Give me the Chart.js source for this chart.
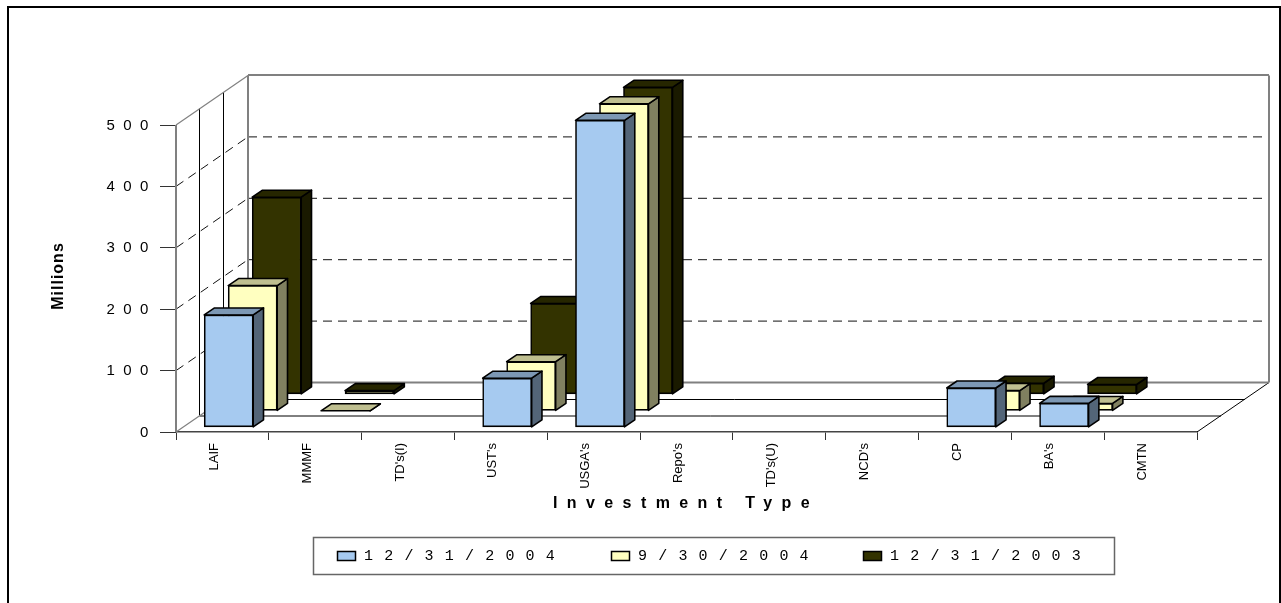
<!DOCTYPE html>
<html>
<head>
<meta charset="utf-8">
<title>Investment Type</title>
<script src="https://cdn.jsdelivr.net/npm/chart.js@4"></script>
<style>
    html, body { margin: 0; padding: 0; background: #ffffff; }
    canvas { display: block; }
</style>
</head>
<body>
<canvas id="investmentChart" width="1281" height="603"></canvas>
<script>
const categories = ["LAIF", "MMMF", "TD's(I)", "UST's", "USGA's", "Repo's", "TD's(U)", "NCD's", "CP", "BA's", "CMTN"];
const seriesLabels = ['12/31/2004', '9/30/2004', '12/31/2003'];
const dec2004 = [183, null, null, 80, 500, null, null, null, 64, 39, null];
const sep2004 = [204, 0, null, 80, 500, null, null, null, 33, 12, null];
const dec2003 = [321, 6, null, 148, 500, null, null, null, 18, 16, null];

const xTitle = 'Investment Type';
const yTitle = 'Millions';

// face, side and top shades for each series
const faceColors = ['#A6CAF0', '#FFFFC0', '#333300'];
const sideColors = ['#536578', '#808060', '#1A1A00'];
const topColors = ['#7D98B4', '#BFBF90', '#262600'];

// depth of the floor, and of one series slot and one bar inside it
const depthX = 72;
const depthY = -49.5;
const slotX = 24;
const slotY = -16.5;
const barDepthX = 10.3;
const barDepthY = -7;

function seriesOffset(i) {
    return { x: 6.3 + i * slotX, y: -4.7 + i * slotY };
}

function line(ctx, x1, y1, x2, y2) {
    ctx.beginPath();
    ctx.moveTo(x1, y1);
    ctx.lineTo(x2, y2);
    ctx.stroke();
}

function polygon(ctx, points, fill) {
    ctx.beginPath();
    points.forEach((p, i) => i ? ctx.lineTo(p[0], p[1]) : ctx.moveTo(p[0], p[1]));
    ctx.closePath();
    ctx.fillStyle = fill;
    ctx.fill();
    ctx.stroke();
}

// back wall, side wall and floor, built on the front axes
const wallsPlugin = {
    id: 'walls',
    beforeDatasetsDraw(chart) {
        const ctx = chart.ctx;
        const yScale = chart.scales.y;
        const { left, right, top, bottom } = chart.chartArea;
        ctx.save();

        // dashed value lines on the side wall and the back wall
        ctx.strokeStyle = '#111111';
        ctx.lineWidth = 1;
        ctx.setLineDash([9, 6]);
        yScale.ticks.forEach(tick => {
            if (tick.value === 0 || tick.value === 500) return;
            const y = yScale.getPixelForValue(tick.value);
            line(ctx, left, y, left + depthX, y + depthY);
            line(ctx, left + depthX, y + depthY, right + depthX, y + depthY);
        });
        ctx.setLineDash([]);

        // series slot lines
        ctx.strokeStyle = '#000000';
        for (let i = 1; i <= 2; i++) {
            const dx = i * slotX;
            const dy = i * slotY;
            line(ctx, left + dx - 0.5, top + dy, left + dx - 0.5, bottom + dy);
            line(ctx, left + dx - 0.5, bottom + dy + 0.5, right + dx, bottom + dy + 0.5);
        }
        line(ctx, right, bottom, right + depthX, bottom + depthY);

        // wall outline
        ctx.strokeStyle = '#808080';
        ctx.lineWidth = 1.2;
        line(ctx, left, top, left + depthX, top + depthY);
        line(ctx, left, bottom, left + depthX, bottom + depthY);
        ctx.lineWidth = 2;
        line(ctx, left, top, left, bottom);
        line(ctx, left + depthX, top + depthY - 0.5, right + depthX, top + depthY - 0.5);
        line(ctx, left + depthX, top + depthY, left + depthX, bottom + depthY);
        line(ctx, right + depthX, top + depthY, right + depthX, bottom + depthY);
        line(ctx, left + depthX, bottom + depthY, right + depthX, bottom + depthY);
        ctx.restore();
    }
};

// moves each series back in depth and adds the side and top of its bars
const barDepthPlugin = {
    id: 'barDepth',
    beforeDatasetDraw(chart, args) {
        const ctx = chart.ctx;
        const offset = seriesOffset(args.index);
        ctx.save();
        ctx.translate(offset.x, offset.y);
        ctx.strokeStyle = '#000000';
        ctx.lineWidth = 1.6;
        ctx.lineJoin = 'round';
        args.meta.data.forEach((bar, i) => {
            if (chart.data.datasets[args.index].data[i] === null) return;
            const l = bar.x - bar.width / 2;
            const r = bar.x + bar.width / 2;
            polygon(ctx, [[r, bar.y], [r + barDepthX, bar.y + barDepthY], [r + barDepthX, bar.base + barDepthY], [r, bar.base]], sideColors[args.index]);
            polygon(ctx, [[l, bar.y], [l + barDepthX, bar.y + barDepthY], [r + barDepthX, bar.y + barDepthY], [r, bar.y]], topColors[args.index]);
        });
    },
    afterDatasetDraw(chart) {
        chart.ctx.restore();
    }
};

function spacedText(ctx, text, x, y, spacing) {
    ctx.letterSpacing = spacing;
    ctx.fillText(text, x, y);
    ctx.letterSpacing = '0px';
}

// outer frame, spaced value labels, axis title and legend box
const furniturePlugin = {
    id: 'furniture',
    afterDraw(chart) {
        const ctx = chart.ctx;
        const yScale = chart.scales.y;
        ctx.save();
        ctx.strokeStyle = '#000000';
        ctx.lineWidth = 2;
        ctx.strokeRect(8, 7, 1272, 620);

        ctx.fillStyle = '#000000';
        ctx.textBaseline = 'middle';
        ctx.textAlign = 'left';
        ctx.font = '15px "Liberation Sans"';
        yScale.ticks.forEach(tick => {
            spacedText(ctx, tick.label, String(tick.value).length === 1 ? 140 : 106.5, yScale.getPixelForValue(tick.value) + 0.5, '8.4px');
        });

        ctx.font = 'bold 16px "Liberation Sans"';
        spacedText(ctx, xTitle, 553, 504, '9.4px');

        ctx.save();
        ctx.translate(58.5, 276);
        ctx.rotate(-Math.PI / 2);
        ctx.textAlign = 'center';
        ctx.font = 'bold 16px "Liberation Sans"';
        spacedText(ctx, yTitle, 0, 0, '1px');
        ctx.restore();

        ctx.strokeStyle = '#666666';
        ctx.lineWidth = 1.5;
        ctx.strokeRect(313.5, 537.5, 801, 37);
        ctx.font = '15px "Liberation Mono"';
        const swatchX = [337, 611, 863];
        seriesLabels.forEach((label, i) => {
            ctx.fillStyle = faceColors[i];
            ctx.strokeStyle = '#000000';
            ctx.fillRect(swatchX[i], 551, 19, 10);
            ctx.strokeRect(swatchX[i] + 0.5, 551.5, 18, 9);
            ctx.fillStyle = '#000000';
            spacedText(ctx, label, swatchX[i] + 27, 556, '11.2px');
        });
        ctx.restore();
    }
};

new Chart(document.getElementById('investmentChart'), {
    type: 'bar',
    data: {
        labels: categories,
        datasets: [dec2004, sep2004, dec2003].map((values, i) => ({
            label: seriesLabels[i],
            data: values,
            backgroundColor: faceColors[i],
            borderColor: '#000000',
            borderWidth: 1.6,
            borderSkipped: false,
            barThickness: 49,
            grouped: false,
            clip: false
        }))
    },
    plugins: [wallsPlugin, barDepthPlugin, furniturePlugin],
    options: {
        responsive: false,
        animation: false,
        layout: { padding: { top: 125, right: 84, left: 0, bottom: 0 } },
        plugins: {
            legend: { display: false },
            tooltip: { enabled: false }
        },
        scales: {
            x: {
                afterFit(scale) { scale.height = 171; },
                border: { color: '#444444', width: 1.5 },
                grid: { drawOnChartArea: false, tickLength: 8, color: '#333333' },
                ticks: {
                    autoSkip: false,
                    minRotation: 90,
                    maxRotation: 90,
                    padding: 3,
                    labelOffset: -8,
                    color: '#000000',
                    font: { family: '"Liberation Sans"', size: 13 }
                }
            },
            y: {
                min: 0,
                max: 500,
                afterFit(scale) { scale.width = 176; },
                border: { color: '#808080', width: 1 },
                grid: { drawOnChartArea: false, tickLength: 16, color: '#333333' },
                ticks: { stepSize: 100, display: false }
            }
        }
    }
});
</script>
</body>
</html>
